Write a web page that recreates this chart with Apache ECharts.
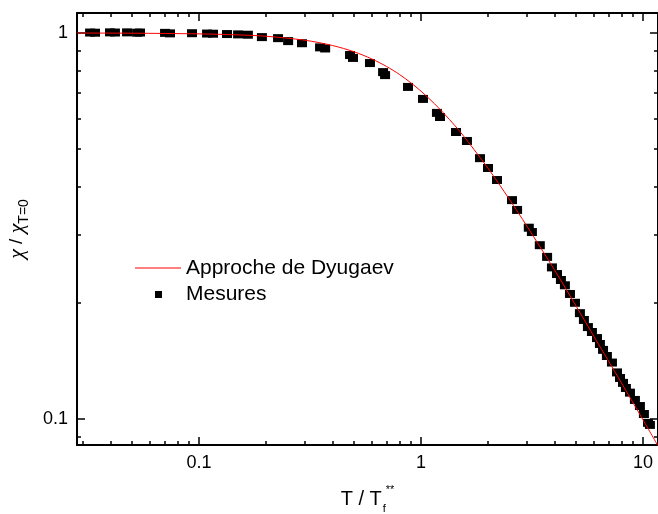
<!DOCTYPE html>
<html>
<head>
<meta charset="utf-8">
<script src="https://cdn.jsdelivr.net/npm/echarts@6/dist/echarts.min.js"></script>
<style>
html,body{margin:0;padding:0;background:#fff;}
#chart{width:658px;height:514px;}
</style>
</head>
<body>
<div id="chart"></div>
<script>
// ---- Data ----
const mesuresX = [0.0323,0.0340,0.0397,0.0418,0.0474,0.0526,0.0542,0.0703,0.0740,0.0930,0.1087,0.1156,0.1337,0.150,0.166,0.192,0.227,0.252,0.291,0.351,0.370,0.479,0.494,0.589,0.675,0.689,0.874,1.021,1.180,1.218,1.438,1.611,1.844,2.004,2.20,2.57,2.71,3.06,3.16,3.43,3.70,3.89,4.10,4.27,4.45,4.69,4.94,5.20,5.42,5.65,5.89,6.21,6.40,6.61,6.88,7.25,7.64,7.88,8.13,8.38,8.74,9.20,9.69,10.10,10.54,10.75];
const mesuresY = [1.003,1.002,1.004,1.003,1.004,1.002,1.003,1.001,0.998,0.999,0.997,0.996,0.994,0.992,0.990,0.976,0.970,0.953,0.941,0.918,0.912,0.877,0.862,0.836,0.792,0.778,0.725,0.675,0.621,0.606,0.554,0.525,0.474,0.447,0.416,0.369,0.348,0.313,0.305,0.282,0.263,0.247,0.2374,0.2291,0.222,0.2108,0.200,0.188,0.1805,0.173,0.168,0.162,0.1564,0.151,0.1456,0.140,0.132,0.1277,0.124,0.1203,0.117,0.112,0.108,0.103,0.0977,0.0965];
const curveX = [0.0282,0.05,0.1,0.15,0.2,0.3,0.4,0.5,0.6,0.7,0.8,0.9,1.0,1.2,1.5,2.0,2.5,3.0,4.0,5.0,6.0,8.0,10.0,11.69];
const curveY = [1.0,0.999,0.995,0.989,0.981,0.958,0.928,0.894,0.857,0.819,0.781,0.743,0.707,0.640,0.555,0.447,0.371,0.316,0.243,0.196,0.164,0.124,0.0995,0.0852];
const xMajorTicks = [0.1,1,10];
const xMinorTicks = [0.03,0.04,0.05,0.06,0.07,0.08,0.09,0.2,0.3,0.4,0.5,0.6,0.7,0.8,0.9,2,3,4,5,6,7,8,9];
const yMajorTicks = [0.1,1];
const yMinorTicks = [0.09,0.2,0.3,0.4,0.5,0.6,0.7,0.8,0.9];
const seriesNames = ['Approche de Dyugaev','Mesures'];

const X_MIN = 0.0282, X_MAX = 11.69, Y_MIN = 0.0856, Y_MAX = 1.127;
const FONT = 'Liberation Sans';
const fmt = v => String(+(+v).toPrecision(3));

function mkAxis(kind, pos, ticks, len, withLine, labels) {
  return {
    type: 'log', logBase: 10, position: pos,
    min: kind === 'x' ? X_MIN : Y_MIN,
    max: kind === 'x' ? X_MAX : Y_MAX,
    splitLine: {show: false},
    axisLine: {show: withLine, onZero: false, lineStyle: {color: '#000', width: 2}},
    axisTick: {show: true, inside: true, length: len, customValues: ticks, lineStyle: {color: '#000', width: 1.5}},
    axisLabel: labels ? {show: true, customValues: labels, formatter: fmt, color: '#000', fontFamily: FONT, fontSize: 18, margin: 9} : {show: false}
  };
}

const xAxes = [
  Object.assign(mkAxis('x','bottom',xMajorTicks,8,true,xMajorTicks), {
    name: '{n|T / T}{sub|f}{sup|**}', nameLocation: 'middle', nameGap: 39,
    nameTextStyle: {rich: {
      n: {fontFamily: FONT, fontSize: 20, color: '#000', lineHeight: 30, verticalAlign: 'middle'},
      sub: {fontFamily: FONT, fontSize: 11, color: '#000', lineHeight: 30, verticalAlign: 'bottom', padding: [0,0,0,1]},
      sup: {fontFamily: FONT, fontSize: 11, color: '#000', lineHeight: 30, verticalAlign: 'top'}
    }}
  }),
  mkAxis('x','bottom',xMinorTicks,4,false,null),
  mkAxis('x','top',xMajorTicks,8,true,null),
  mkAxis('x','top',xMinorTicks,4,false,null)
];
const yAxes = [
  Object.assign(mkAxis('y','left',yMajorTicks,8,true,yMajorTicks), {
    name: '{c|χ}{n| / }{c|χ}{sub|T=0}', nameLocation: 'middle', nameGap: 46, nameRotate: 90,
    nameTextStyle: {rich: {
      c: {fontFamily: 'Liberation Serif', fontStyle: 'italic', fontSize: 22, color: '#000', lineHeight: 28, verticalAlign: 'middle'},
      n: {fontFamily: FONT, fontSize: 19, color: '#000', lineHeight: 28, verticalAlign: 'middle'},
      sub: {fontFamily: FONT, fontSize: 14, color: '#000', lineHeight: 28, verticalAlign: 'bottom'}
    }}
  }),
  mkAxis('y','left',yMinorTicks,4,false,null),
  mkAxis('y','right',yMajorTicks,8,true,null),
  mkAxis('y','right',yMinorTicks,4,false,null)
];

const chart = echarts.init(document.getElementById('chart'), null, {renderer: 'canvas'});
chart.setOption({
  backgroundColor: '#fff',
  animation: false,
  grid: {left: 77, right: 0, top: 13, bottom: 69, containLabel: false, outerBoundsMode: 'none'},
  xAxis: xAxes,
  yAxis: yAxes,
  series: [
    {
      name: seriesNames[0], type: 'line', xAxisIndex: 0, yAxisIndex: 0,
      data: curveX.map((x, i) => [x, curveY[i]]),
      smooth: 0.3, showSymbol: false,
      lineStyle: {color: '#ff0000', width: 1},
      z: 3
    },
    {
      name: seriesNames[1], type: 'scatter', xAxisIndex: 0, yAxisIndex: 0,
      data: mesuresX.map((x, i) => [x, mesuresY[i]]),
      symbol: 'rect', symbolSize: [10, 8],
      itemStyle: {color: '#000', opacity: 1},
      z: 2
    }
  ],
  graphic: [
    {type: 'line', shape: {x1: 135, y1: 268, x2: 181, y2: 268}, style: {stroke: '#ff0000', lineWidth: 1}},
    {type: 'text', x: 186, y: 268, style: {text: seriesNames[0], fontFamily: FONT, fontSize: 21, fill: '#000', textVerticalAlign: 'middle'}},
    {type: 'rect', shape: {x: 155, y: 291, width: 7, height: 7}, style: {fill: '#000'}},
    {type: 'text', x: 186, y: 294, style: {text: seriesNames[1], fontFamily: FONT, fontSize: 21, fill: '#000', textVerticalAlign: 'middle'}}
  ]
});
</script>
</body>
</html>
